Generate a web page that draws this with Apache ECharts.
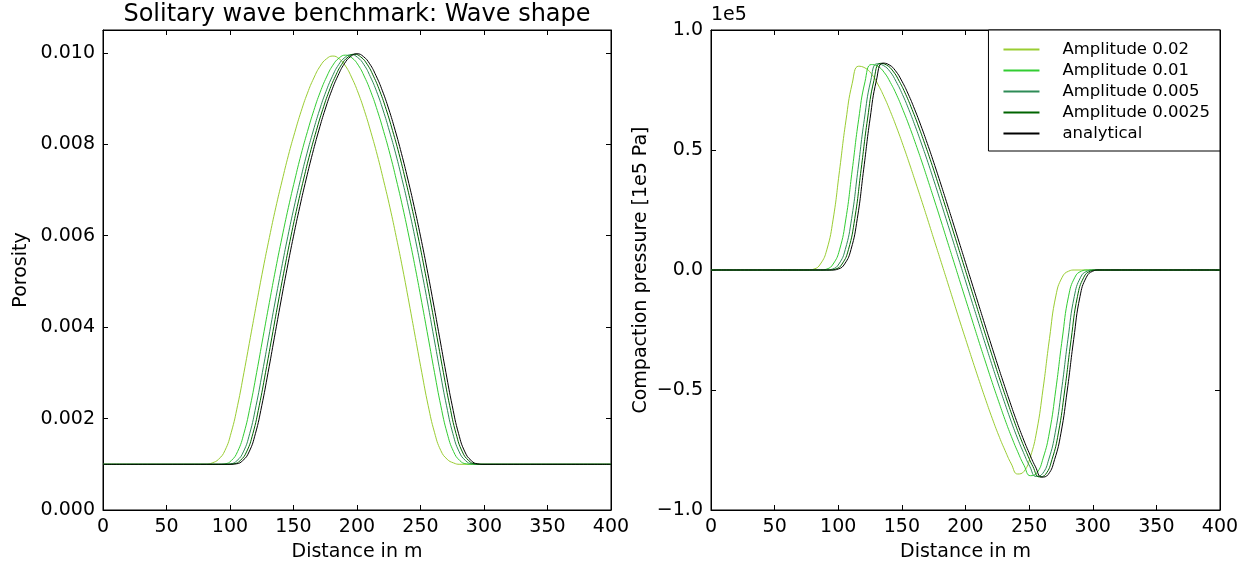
<!DOCTYPE html>
<html>
<head>
<meta charset="utf-8">
<script src="https://cdn.jsdelivr.net/npm/echarts@6/dist/echarts.min.js"></script>
<style>
html,body{margin:0;padding:0;background:#fff;}
#chart{width:1255px;height:570px;}
</style>
</head>
<body>
<div id="chart"></div>
<script>
// ---------- DATA ----------
const seriesNames = ['Amplitude 0.02', 'Amplitude 0.01', 'Amplitude 0.005', 'Amplitude 0.0025', 'analytical'];
const xTicks = [0, 50, 100, 150, 200, 250, 300, 350, 400];
const porosityTicks = [0.000, 0.002, 0.004, 0.006, 0.008, 0.010];
const pressureTicks = [-1.0, -0.5, 0.0, 0.5, 1.0];

// Porosity (left panel): distance [m] and porosity values per run
const porDist_analytical = [0,100,105,110,115,120,125,130,135,140,145,150,155,160,165,170,175,180,185,190,195,200,205,210,215,220,225,230,235,240,245,250,255,260,265,270,275,280,285,290,295,300,400];
const por_analytical = [0.00100,0.00100,0.00101,0.00108,0.00127,0.00167,0.00228,0.00301,0.00378,0.00455,0.00529,0.00599,0.00664,0.00724,0.00780,0.00831,0.00877,0.00917,0.00950,0.00976,0.00992,0.00998,0.00992,0.00976,0.00950,0.00917,0.00877,0.00831,0.00780,0.00724,0.00664,0.00599,0.00529,0.00455,0.00378,0.00301,0.00228,0.00167,0.00127,0.00108,0.00101,0.00100,0.00100];

const porDist_a0025 = [0,98,103,108,113,118,123,128,133,138,143,148,153,158,163,168,173,178,183,188,193,198,203,208,213,218,223,228,233,238,243,248,253,258,263,268,273,278,283,288,293,298,400];
const por_a0025 = [0.00100,0.00100,0.00101,0.00108,0.00127,0.00167,0.00228,0.00301,0.00378,0.00455,0.00529,0.00599,0.00664,0.00724,0.00780,0.00830,0.00876,0.00916,0.00949,0.00975,0.00991,0.00997,0.00991,0.00975,0.00949,0.00916,0.00876,0.00830,0.00780,0.00724,0.00664,0.00599,0.00529,0.00455,0.00378,0.00301,0.00228,0.00167,0.00127,0.00108,0.00101,0.00100,0.00100];

const porDist_a005 = [0,95.5,100.5,105.5,110.5,115.5,120.5,125.5,130.5,135.5,140.5,145.5,150.5,155.5,160.5,165.5,170.5,175.5,180.5,185.5,190.5,195.5,200.5,205.5,210.5,215.5,220.5,225.5,230.5,235.5,240.5,245.5,250.5,255.5,260.5,265.5,270.5,275.5,280.5,285.5,290.5,295.5,400];
const por_a005 = [0.00100,0.00100,0.00101,0.00108,0.00127,0.00167,0.00228,0.00301,0.00378,0.00455,0.00528,0.00598,0.00663,0.00723,0.00779,0.00829,0.00875,0.00915,0.00948,0.00974,0.00990,0.00996,0.00990,0.00974,0.00948,0.00915,0.00875,0.00829,0.00779,0.00723,0.00663,0.00598,0.00528,0.00455,0.00378,0.00301,0.00228,0.00167,0.00127,0.00108,0.00101,0.00100,0.00100];

const porDist_a01 = [0,91,96,101,106,111,116,121,126,131,136,141,146,151,156,161,166,171,176,181,186,191,196,201,206,211,216,221,226,231,236,241,246,251,256,261,266,271,276,281,286,291,400];
const por_a01 = [0.00100,0.00100,0.00101,0.00108,0.00128,0.00168,0.00228,0.00301,0.00378,0.00454,0.00528,0.00597,0.00662,0.00722,0.00778,0.00828,0.00874,0.00914,0.00947,0.00973,0.00989,0.00995,0.00989,0.00973,0.00947,0.00914,0.00874,0.00828,0.00778,0.00722,0.00662,0.00597,0.00528,0.00454,0.00378,0.00301,0.00228,0.00168,0.00128,0.00108,0.00101,0.00100,0.00100];

const porDist_a02 = [0,81,86,91,96,101,106,111,116,121,126,131,136,141,146,151,156,161,166,171,176,181,186,191,196,201,206,211,216,221,226,231,236,241,246,251,256,261,266,271,276,281,400];
const por_a02 = [0.00100,0.00100,0.00103,0.00111,0.00130,0.00170,0.00229,0.00301,0.00377,0.00453,0.00527,0.00596,0.00661,0.00720,0.00776,0.00826,0.00872,0.00912,0.00945,0.00971,0.00987,0.00993,0.00987,0.00971,0.00945,0.00912,0.00872,0.00826,0.00776,0.00720,0.00661,0.00596,0.00527,0.00453,0.00377,0.00301,0.00229,0.00170,0.00130,0.00111,0.00103,0.00100,0.00100];

// Compaction pressure (right panel), in units of 1e5 Pa
const preDist_analytical = [0,95,100,105,110,115,120,125,130,135,140,145,150,155,160,165,170,175,180,185,190,195,200,205,210,215,220,225,230,235,240,245,250,255,260,265,270,275,280,285,290,295,300,305,400];
const pre_analytical = [0,0,0.004,0.025,0.085,0.215,0.42,0.63,0.79,0.862,0.855,0.83,0.787,0.733,0.67,0.601,0.527,0.449,0.368,0.285,0.201,0.116,0.031,-0.054,-0.139,-0.224,-0.308,-0.391,-0.472,-0.551,-0.627,-0.698,-0.762,-0.82,-0.863,-0.852,-0.79,-0.68,-0.5,-0.29,-0.11,-0.03,-0.005,0,0];

const preDist_a0025 = [0,93,98,103,108,113,118,123,128,133,138,143,148,153,158,163,168,173,178,183,188,193,198,203,208,213,218,223,228,233,238,243,248,253,258,263,268,273,278,283,288,293,298,303,400];
const pre_a0025 = [0,0,0.004,0.025,0.085,0.215,0.42,0.629,0.789,0.861,0.854,0.829,0.786,0.732,0.669,0.6,0.526,0.449,0.368,0.285,0.201,0.116,0.031,-0.054,-0.139,-0.224,-0.308,-0.391,-0.472,-0.55,-0.626,-0.697,-0.761,-0.819,-0.862,-0.851,-0.789,-0.679,-0.5,-0.29,-0.11,-0.03,-0.005,0,0];

const preDist_a005 = [0,90.5,95.5,100.5,105.5,110.5,115.5,120.5,125.5,130.5,135.5,140.5,145.5,150.5,155.5,160.5,165.5,170.5,175.5,180.5,185.5,190.5,195.5,200.5,205.5,210.5,215.5,220.5,225.5,230.5,235.5,240.5,245.5,250.5,255.5,260.5,265.5,270.5,275.5,280.5,285.5,290.5,295.5,300.5,400];
const pre_a005 = [0,0,0.004,0.025,0.085,0.214,0.419,0.628,0.788,0.859,0.852,0.828,0.785,0.731,0.668,0.599,0.525,0.448,0.367,0.284,0.2,0.116,0.031,-0.054,-0.139,-0.223,-0.307,-0.39,-0.471,-0.549,-0.625,-0.696,-0.76,-0.818,-0.86,-0.849,-0.788,-0.678,-0.499,-0.289,-0.11,-0.03,-0.005,0,0];

const preDist_a01 = [0,86,91,96,101,106,111,116,121,126,131,136,141,146,151,156,161,166,171,176,181,186,191,196,201,206,211,216,221,226,231,236,241,246,251,256,261,266,271,276,281,286,291,296,400];
const pre_a01 = [0,0,0.004,0.025,0.084,0.213,0.417,0.626,0.784,0.856,0.849,0.824,0.781,0.728,0.665,0.597,0.523,0.446,0.365,0.283,0.2,0.115,0.031,-0.054,-0.138,-0.222,-0.306,-0.388,-0.469,-0.547,-0.623,-0.693,-0.757,-0.814,-0.857,-0.846,-0.784,-0.675,-0.497,-0.288,-0.109,-0.03,-0.005,0,0];

const preDist_a02 = [0,76,81,86,91,96,101,106,111,116,121,126,131,136,141,146,151,156,161,166,171,176,181,186,191,196,201,206,211,216,221,226,231,236,241,246,251,256,261,266,271,276,281,286,400];
const pre_a02 = [0,0,0.004,0.025,0.084,0.212,0.414,0.621,0.778,0.849,0.842,0.818,0.775,0.722,0.66,0.592,0.519,0.442,0.362,0.281,0.198,0.114,0.031,-0.053,-0.137,-0.221,-0.303,-0.385,-0.465,-0.543,-0.618,-0.688,-0.751,-0.808,-0.85,-0.839,-0.778,-0.67,-0.493,-0.286,-0.108,-0.03,-0.005,0,0];

const seriesColors = ['#9ACD32', '#32CD32', '#2E8B57', '#006400', '#000000'];

// ---------- BUILD ----------
function zip(xs, ys) { return xs.map((x, i) => [x, ys[i]]); }
const porData = [zip(porDist_a02, por_a02), zip(porDist_a01, por_a01), zip(porDist_a005, por_a005), zip(porDist_a0025, por_a0025), zip(porDist_analytical, por_analytical)];
const preData = [zip(preDist_a02, pre_a02), zip(preDist_a01, pre_a01), zip(preDist_a005, pre_a005), zip(preDist_a0025, pre_a0025), zip(preDist_analytical, pre_analytical)];

const FONT = 'DejaVu Sans';
const near = (v, list) => list.some(t => Math.abs(t - v) < 1e-9);
const minus = s => s.replace('-', '\u2212');

function xAxisDef(gridIndex, top) {
  return {
    type: 'value', gridIndex, min: 0, max: 400, interval: 50,
    position: top ? 'top' : 'bottom',
    name: top ? '' : 'Distance in m', nameLocation: 'middle', nameGap: 33,
    nameTextStyle: { fontFamily: FONT, fontSize: 19, color: '#000' },
    axisLine: { show: true, onZero: false, lineStyle: { color: '#000', width: 1 } },
    axisTick: { show: true, inside: true, length: 5, lineStyle: { color: '#000' } },
    axisLabel: { show: !top, margin: 8, fontFamily: FONT, fontSize: 19, color: '#000',
      formatter: v => near(v, xTicks) ? String(v) : '' },
    splitLine: { show: false }
  };
}

const legendItems = seriesNames.map(n => ({ name: n }));

const option = {
  animation: false,
  backgroundColor: '#fff',
  title: {
    text: 'Solitary wave benchmark: Wave shape',
    left: 357, top: 3, textAlign: 'center', padding: 0,
    textStyle: { fontFamily: FONT, fontSize: 24, fontWeight: 'normal', color: '#000' }
  },
  graphic: [{
    type: 'text', left: 711, top: 6,
    style: { text: '1e5', font: '19px "DejaVu Sans"', fill: '#000' }
  }],
  legend: {
    data: legendItems,
    orient: 'vertical',
    right: 35, top: 30,
    padding: [11, 10, 9, 15],
    icon: 'rect',
    itemWidth: 36, itemHeight: 2, itemGap: 4,
    borderColor: '#000', borderWidth: 1, backgroundColor: '#fff',
    textStyle: { fontFamily: FONT, fontSize: 16.5, color: '#000', padding: [0, 0, 0, 18] }
  },
  grid: [
    { left: 103, right: 644, top: 30, bottom: 60, show: true, borderColor: '#000', borderWidth: 1 },
    { left: 711, right: 35, top: 30, bottom: 60, show: true, borderColor: '#000', borderWidth: 1 }
  ],
  xAxis: [xAxisDef(0, false), xAxisDef(0, true), xAxisDef(1, false), xAxisDef(1, true)],
  yAxis: [
    {
      type: 'value', gridIndex: 0, min: 0, max: 0.0105, interval: 0.002, position: 'left',
      name: 'Porosity', nameLocation: 'middle', nameGap: 72,
      nameTextStyle: { fontFamily: FONT, fontSize: 19, color: '#000' },
      axisLine: { show: true, onZero: false, lineStyle: { color: '#000' } },
      axisTick: { show: true, inside: true, length: 5, lineStyle: { color: '#000' } },
      axisLabel: { margin: 8, fontFamily: FONT, fontSize: 19, color: '#000',
        formatter: v => near(v, porosityTicks) ? v.toFixed(3) : '' },
      splitLine: { show: false }
    },
    {
      type: 'value', gridIndex: 0, min: 0, max: 0.0105, interval: 0.002, position: 'right',
      axisLine: { show: true, onZero: false, lineStyle: { color: '#000' } },
      axisTick: { show: true, inside: true, length: 5, lineStyle: { color: '#000' } },
      axisLabel: { show: false }, splitLine: { show: false }
    },
    {
      type: 'value', gridIndex: 1, min: -1, max: 1, interval: 0.5, position: 'left',
      name: 'Compaction pressure [1e5 Pa]', nameLocation: 'middle', nameGap: 60,
      nameTextStyle: { fontFamily: FONT, fontSize: 19, color: '#000' },
      axisLine: { show: true, onZero: false, lineStyle: { color: '#000' } },
      axisTick: { show: true, inside: true, length: 5, lineStyle: { color: '#000' } },
      axisLabel: { margin: 8, fontFamily: FONT, fontSize: 19, color: '#000',
        formatter: v => near(v, pressureTicks) ? minus(v.toFixed(1)) : '' },
      splitLine: { show: false }
    },
    {
      type: 'value', gridIndex: 1, min: -1, max: 1, interval: 0.5, position: 'right',
      axisLine: { show: true, onZero: false, lineStyle: { color: '#000' } },
      axisTick: { show: true, inside: true, length: 5, lineStyle: { color: '#000' } },
      axisLabel: { show: false }, splitLine: { show: false }
    }
  ],
  series: []
};

seriesNames.forEach((name, i) => {
  option.series.push({
    name, type: 'line', xAxisIndex: 0, yAxisIndex: 0, data: porData[i],
    showSymbol: false, symbol: 'none', smooth: 0.5,
    lineStyle: { color: seriesColors[i], width: 1 }, itemStyle: { color: seriesColors[i] },
    z: 2 + i
  });
});
seriesNames.forEach((name, i) => {
  option.series.push({
    name, type: 'line', xAxisIndex: 2, yAxisIndex: 2, data: preData[i],
    showSymbol: false, symbol: 'none', smooth: 0.5,
    lineStyle: { color: seriesColors[i], width: 1 }, itemStyle: { color: seriesColors[i] },
    z: 2 + i
  });
});

const chart = echarts.init(document.getElementById('chart'), null, { renderer: 'canvas' });
chart.setOption(option);
</script>
</body>
</html>
